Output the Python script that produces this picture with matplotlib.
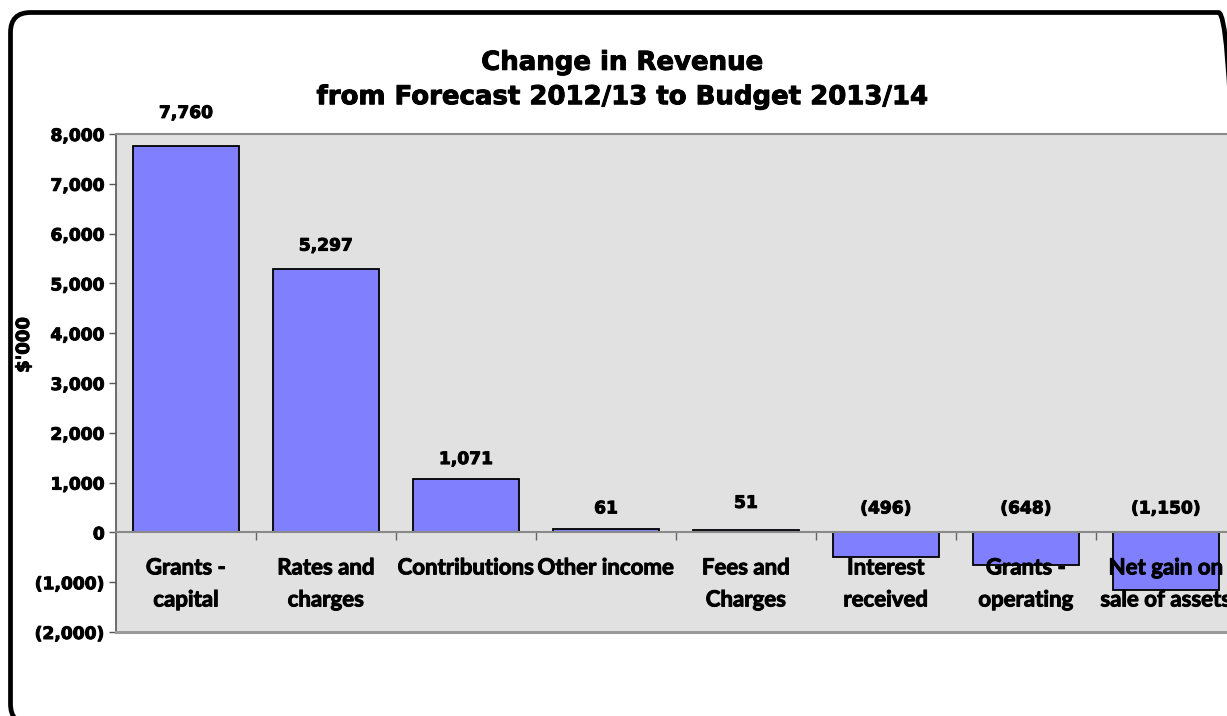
import matplotlib
matplotlib.use("Agg")
import matplotlib.pyplot as plt
from matplotlib.patches import FancyBboxPatch
from matplotlib.transforms import IdentityTransform
from matplotlib.ticker import FuncFormatter, FixedLocator
import matplotlib.patheffects as pe

# Change in revenue by source ($'000)
categories = [
    "Grants -\ncapital",
    "Rates and\ncharges",
    "Contributions",
    "Other income",
    "Fees and\nCharges",
    "Interest\nreceived",
    "Grants -\noperating",
    "Net gain on\nsale of assets",
]
changes = [7760, 5297, 1071, 61, 51, -496, -648, -1150]
y_ticks = [-2000, -1000, 0, 1000, 2000, 3000, 4000, 5000, 6000, 7000, 8000]

# pixel gap between bar end (or zero line) and its value label
label_gap_px = [33, 23, 20, 21, 27, 24, 24, 24]

W, H = 1227, 716
NUM_FONT = "DejaVu Sans"
CAT_FONT = "Lato"
heavy = [pe.withStroke(linewidth=0.7, foreground="black")]


def fmt(v, _pos=None):
    v = int(round(v))
    return f"({-v:,})" if v < 0 else f"{v:,}"


fig = plt.figure(figsize=(W / 100, H / 100), dpi=100)
fig.patch.set_facecolor("white")

# plot area (runs past the right edge of the canvas)
ax = fig.add_axes([116 / W, 1 - 632 / H, 1120 / W, 498 / H])
ax.set_facecolor("#e1e1e1")
ax.set_xlim(0, 8)
ax.set_ylim(y_ticks[0], y_ticks[-1])

centers = [i + 0.5 for i in range(len(categories))]
ax.bar(centers, changes, width=0.757, color="#8080ff", edgecolor="black",
       linewidth=1.3, zorder=1)

# value labels
for x, v, gap in zip(centers, changes, label_gap_px):
    ax.annotate(fmt(v), xy=(x, max(v, 0)), xytext=(0, gap),
                textcoords="offset pixels", ha="center", va="center",
                fontsize=12.3, fontweight="bold", family=NUM_FONT,
                color="black", annotation_clip=False, path_effects=heavy)

# y axis
ax.yaxis.set_major_locator(FixedLocator(y_ticks))
ax.yaxis.set_major_formatter(FuncFormatter(fmt))
ax.tick_params(axis="y", direction="out", length=5, width=1,
               color="#555555", pad=3, labelsize=12.3)
for lab in ax.get_yticklabels():
    lab.set_fontweight("bold")
    lab.set_family(NUM_FONT)
    lab.set_path_effects(heavy)

# x axis sits on the zero line; ticks mark category boundaries
ax.spines["bottom"].set_position(("data", 0))
ax.spines["bottom"].set_color("#8a8a8a")
ax.spines["bottom"].set_linewidth(1.5)
ax.spines["top"].set_color("#8a8a8a")
ax.spines["top"].set_linewidth(1.5)
ax.spines["left"].set_color("#555555")
ax.spines["left"].set_linewidth(1.2)
ax.spines["right"].set_visible(False)
ax.axhline(y_ticks[0], color="#9a9a9a", linewidth=2.2, zorder=3, clip_on=False)

ax.set_xticks(range(1, 8))
ax.set_xticklabels([])
ax.tick_params(axis="x", which="major", direction="out", length=6,
               width=1, color="#666666")
ax.set_xticks(centers, minor=True)
ax.set_xticklabels(categories, minor=True)
ax.tick_params(axis="x", which="minor", length=0, pad=18, labelsize=16)
for lab in ax.get_xticklabels(minor=True):
    lab.set_fontweight("bold")
    lab.set_family(CAT_FONT)
    lab.set_linespacing(1.65)
    lab.set_path_effects(heavy)

ax.set_ylabel("$'000", fontsize=13, fontweight="bold", family=NUM_FONT,
              path_effects=heavy)
ax.yaxis.set_label_coords(33 / W, 1 - 345 / H, transform=fig.transFigure)

fig.text(622 / W, 1 - 80 / H,
         "Change in Revenue\nfrom Forecast 2012/13 to Budget 2013/14",
         ha="center", va="center", fontsize=18.7, fontweight="bold",
         family=NUM_FONT, linespacing=1.42, path_effects=heavy)

# rounded chart frame
frame = FancyBboxPatch((10.5, -8), 1228, 711.5,
                       boxstyle="round,pad=0,rounding_size=20",
                       transform=IdentityTransform(), facecolor="none",
                       edgecolor="black", linewidth=3.4)
fig.add_artist(frame)

fig.savefig("out.png", dpi=100)
